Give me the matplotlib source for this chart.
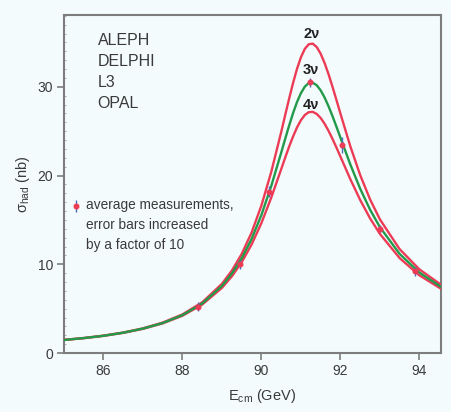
import matplotlib
matplotlib.use("Agg")
import matplotlib.pyplot as plt
from matplotlib.ticker import MultipleLocator

# ---- data ----
energy = [85.0, 85.5, 86.0, 86.5, 87.0, 87.5, 88.0, 88.5, 89.0, 89.25, 89.5, 89.75,
          90.0, 90.25, 90.5, 90.6, 90.7, 90.8, 90.9, 91.0, 91.1, 91.2, 91.3, 91.4,
          91.5, 91.6, 91.7, 91.8, 91.9, 92.0, 92.25, 92.5, 92.75, 93.0, 93.5, 94.0, 94.55]
sigma_2nu = [1.48, 1.69, 1.96, 2.31, 2.78, 3.43, 4.35, 5.71, 7.80, 9.28, 11.16, 13.56,
             16.63, 20.43, 24.89, 26.78, 28.64, 30.41, 32.01, 33.33, 34.29, 34.81, 34.87, 34.49,
             33.74, 32.69, 31.42, 30.01, 28.52, 27.00, 23.32, 20.07, 17.33, 15.07, 11.71, 9.43, 7.69]
sigma_3nu = [1.47, 1.68, 1.94, 2.29, 2.75, 3.38, 4.27, 5.58, 7.56, 8.94, 10.67, 12.84,
             15.56, 18.84, 22.57, 24.11, 25.61, 27.02, 28.27, 29.29, 30.03, 30.43, 30.47, 30.18,
             29.61, 28.80, 27.81, 26.70, 25.51, 24.29, 21.27, 18.53, 16.17, 14.19, 11.17, 9.07, 7.45]
sigma_4nu = [1.47, 1.67, 1.93, 2.27, 2.72, 3.34, 4.20, 5.46, 7.34, 8.63, 10.23, 12.22,
             14.65, 17.53, 20.71, 22.00, 23.24, 24.39, 25.41, 26.24, 26.83, 27.15, 27.18, 26.95,
             26.49, 25.84, 25.04, 24.13, 23.16, 22.15, 19.61, 17.26, 15.19, 13.43, 10.70, 8.76, 7.24]

meas_E = [88.4, 89.45, 90.2, 91.22, 92.05, 93.0, 93.9]
meas_sigma = [5.2, 10.0, 18.2, 30.5, 23.5, 14.0, 9.2]
meas_err = [0.5, 0.5, 0.6, 0.5, 0.9, 0.4, 0.5]

curve_labels = ["2\u03bd", "3\u03bd", "4\u03bd"]
curve_label_y = [36.0, 31.9, 28.0]
experiments = ["ALEPH", "DELPHI", "L3", "OPAL"]
xticks = [86, 88, 90, 92, 94]
yticks = [0, 10, 20, 30]

# ---- style ----
fam = "Liberation Sans"
plt.rcParams["font.family"] = [fam, "DejaVu Sans"]
plt.rcParams["mathtext.fontset"] = "custom"
plt.rcParams["mathtext.rm"] = fam
plt.rcParams["mathtext.it"] = fam
plt.rcParams["mathtext.bf"] = fam

bg = "#f4fbfd"
txt = "#3a3a3a"
spine_c = "#7d7d7d"
red = "#ec3b55"
green = "#23994a"
blue = "#4a6cc0"

fig = plt.figure(figsize=(4.51, 4.12), dpi=100, facecolor=bg)
ax = fig.add_axes([0.1419, 0.1432, 0.8361, 0.8204], facecolor=bg)

ax.plot(energy, sigma_2nu, color=red, lw=1.7, zorder=3)
ax.plot(energy, sigma_4nu, color=red, lw=1.7, zorder=3)
ax.plot(energy, sigma_3nu, color=green, lw=1.7, zorder=3)

ax.errorbar(meas_E, meas_sigma, yerr=meas_err, fmt="o", ms=3.3, mfc=red, mec=red,
            ecolor=blue, elinewidth=1.0, capsize=0, zorder=4)

ax.set_xlim(85.0, 94.55)
ax.set_ylim(0, 38.1)
ax.set_xticks(xticks)
ax.set_yticks(yticks)
ax.yaxis.set_minor_locator(MultipleLocator(1))
ax.tick_params(axis="both", which="major", direction="out", length=5, width=1.2,
               color=spine_c, labelcolor=txt, labelsize=10, pad=3)
ax.tick_params(axis="y", which="minor", direction="in", length=1.5, width=0.6, color="#a0a0a0")
for s in ax.spines.values():
    s.set_color(spine_c)
    s.set_linewidth(1.5)

ax.set_xlabel("E$_{\\rm cm}$ (GeV)", fontsize=10.5, color=txt)
ax.xaxis.set_label_coords(0.525, -0.1)
ax.set_ylabel("\u03c3$_{\\rm had}$ (nb)", fontsize=10.5, color=txt)
ax.yaxis.set_label_coords(-0.085, 0.5)

for lab, y in zip(curve_labels, curve_label_y):
    ax.text(91.26, y, lab, ha="center", va="center", fontsize=10.5, color="#222222",
            fontweight="bold")

ax.text(85.85, 36.1, "\n".join(experiments), ha="left", va="top", fontsize=11.5,
        color=txt, linespacing=1.52)

ax.errorbar([85.3], [16.6], yerr=[0.7], fmt="o", ms=3.3, mfc=red, mec=red,
            ecolor=blue, elinewidth=1.0, capsize=0, clip_on=False)
ax.text(85.55, 17.5, "average measurements,\nerror bars increased\nby a factor of 10",
        ha="left", va="top", fontsize=9.8, color=txt, linespacing=1.55)

fig.savefig("out.png", dpi=100, facecolor=bg)
